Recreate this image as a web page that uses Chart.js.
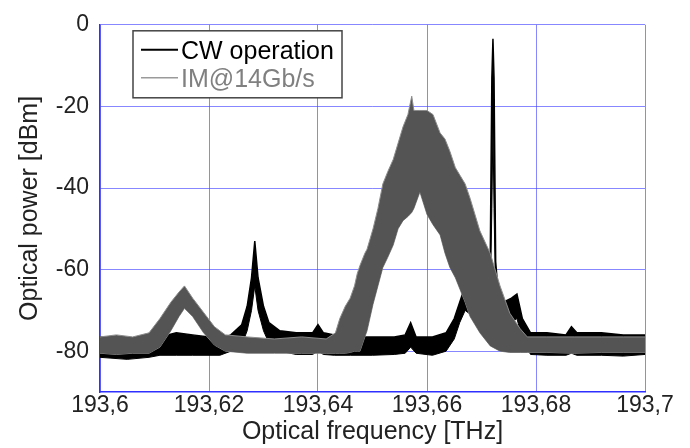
<!DOCTYPE html>
<html>
<head>
<meta charset="utf-8">
<script src="https://cdn.jsdelivr.net/npm/chart.js@4.4.1/dist/chart.umd.min.js"></script>
<style>
  body { margin: 0; background: #fff; }
</style>
</head>
<body>
<canvas id="spectrum" width="690" height="448"></canvas>
<script>
// axis ticks
const xTicks = [193.6, 193.62, 193.64, 193.66, 193.68, 193.7];
const xTickLabels = ["193,6", "193,62", "193,64", "193,66", "193,68", "193,7"];
const yTicks = [-80, -60, -40, -20, 0];

// IM@14Gb/s spectrum, read as upper / lower edge of the noisy band
const imFreq = [193.600, 193.603, 193.606, 193.609, 193.611, 193.613, 193.6145, 193.6155, 193.617, 193.619,
  193.621, 193.623, 193.627, 193.632, 193.637, 193.6415, 193.6432, 193.6440, 193.6450, 193.6459,
  193.6467, 193.6472, 193.6477, 193.6486, 193.6490, 193.6501, 193.6510, 193.6519, 193.6528, 193.6538,
  193.6547, 193.6556, 193.6565, 193.6572, 193.6576, 193.6587, 193.6600, 193.6611, 193.6624, 193.6633,
  193.6642, 193.6652, 193.6661, 193.6670, 193.6679, 193.6697, 193.6716, 193.6734, 193.6752, 193.6771,
  193.6784, 193.682, 193.687, 193.692, 193.696, 193.700];
const imUpper = [-76.5, -76, -76.5, -75.5, -72, -68, -65.5, -64, -67, -70.5,
  -74, -76, -76.5, -77, -76.5, -77, -75.5, -72, -69, -67,
  -64, -61, -59, -56, -55, -50, -45, -39, -36, -33,
  -29, -25, -22, -17.5, -21, -21, -21, -22, -26.5, -28,
  -31, -35, -37, -39, -42.5, -50.5, -56, -64, -70.7, -74.5,
  -76.5, -76.5, -76.5, -76.5, -76.5, -76.5];
const imLower = [-80.5, -80.8, -80.5, -80.5, -79, -75, -71.5, -69.5, -71.5, -75.5,
  -78.5, -80, -80.5, -80.5, -80.5, -80.5, -80.5, -80.5, -80.5, -80.3,
  -80, -80, -80, -76.5, -75, -68.5, -64, -59.5, -57, -54,
  -50, -48, -47, -46, -45, -41, -46.5, -49, -51.5, -56,
  -59.5, -62, -65, -68, -71.5, -75.5, -78.7, -80, -80.3, -80.3,
  -80.3, -80.3, -80.5, -80.3, -80.3, -80.3];

// CW operation spectrum
const cwFreq = [193.600, 193.605, 193.609, 193.611, 193.614, 193.617, 193.620, 193.622, 193.624, 193.626,
  193.627, 193.6278, 193.6284, 193.629, 193.630, 193.631, 193.633, 193.636, 193.639, 193.640,
  193.641, 193.643, 193.646, 193.650, 193.654, 193.656, 193.657, 193.658, 193.661, 193.6635,
  193.665, 193.666, 193.667, 193.668, 193.669, 193.6705, 193.6713, 193.6716, 193.6719, 193.6721,
  193.6723, 193.6726, 193.6729, 193.674, 193.6755, 193.6765, 193.6775, 193.679, 193.682, 193.6855,
  193.6865, 193.6875, 193.692, 193.696, 193.700];
const cwUpper = [-76.5, -77, -77, -76.5, -75.5, -76, -76.5, -77, -76, -73.5,
  -69, -62, -53, -62, -69, -73, -75, -75.5, -75.5, -73.5,
  -75.5, -76, -76.5, -76.5, -76.5, -76, -73, -76.5, -76.5, -75.5,
  -72, -68, -64, -65.5, -68.5, -69, -66, -58, -13, -3.4,
  -13, -58, -63, -68, -67, -66, -72, -75.5, -75.5, -76,
  -74, -75.5, -75.5, -76, -76];
const cwLower = [-81.5, -82, -81.5, -81, -81, -81, -81, -81, -80, -78.5,
  -75, -70, -64, -70, -75, -78, -80, -80.8, -80.8, -80,
  -80.8, -81, -81, -81, -80.8, -80.5, -79, -80.5, -81, -80,
  -77, -73, -70, -71, -73, -73.5, -72, -68, -45, -25,
  -45, -68, -70, -73, -73, -72, -77, -80.8, -81, -81,
  -80.5, -81, -81, -81.2, -80.8];

const legendItems = ["CW operation", "IM@14Gb/s"];
const legendColors = ["#000000", "#9a9a9a"];
const legendTextColors = ["#000000", "#808080"];

function pts(xs, ys) {
  return xs.map((x, i) => ({ x: x, y: ys[i] }));
}

const boxLegend = {
  id: "boxLegend",
  afterDraw(chart) {
    const ctx = chart.ctx;
    const a = chart.chartArea;
    const bx = a.left + 33, by = a.top + 6, bw = 209, bh = 67;
    ctx.save();
    ctx.fillStyle = "#ffffff";
    ctx.fillRect(bx, by, bw, bh);
    ctx.strokeStyle = "#444444";
    ctx.lineWidth = 1.5;
    ctx.strokeRect(bx, by, bw, bh);
    ctx.font = "25px 'Liberation Sans', Arial, sans-serif";
    ctx.textBaseline = "middle";
    for (let i = 0; i < legendItems.length; i++) {
      const ly = by + 19 + i * 28;
      ctx.strokeStyle = legendColors[i];
      ctx.lineWidth = i == 0 ? 2 : 1.5;
      ctx.beginPath();
      ctx.moveTo(bx + 8, ly);
      ctx.lineTo(bx + 45, ly);
      ctx.stroke();
      ctx.fillStyle = legendTextColors[i];
      ctx.fillText(legendItems[i], bx + 48, ly + 2);
    }
    ctx.restore();
  }
};

const gridBlue = "rgba(70,70,255,0.65)";

new Chart(document.getElementById("spectrum"), {
  type: "line",
  data: {
    datasets: [
      { data: pts(imFreq, imUpper), borderColor: "#8c8c8c", backgroundColor: "#545454", borderWidth: 1, fill: "+1" },
      { data: pts(imFreq, imLower), borderColor: "#8c8c8c", borderWidth: 1, fill: false },
      { data: pts(cwFreq, cwUpper), borderColor: "#000000", backgroundColor: "#000000", borderWidth: 1.5, fill: "+1" },
      { data: pts(cwFreq, cwLower), borderColor: "#000000", borderWidth: 1, fill: false }
    ]
  },
  options: {
    responsive: false,
    animation: false,
    devicePixelRatio: 1,
    elements: { point: { radius: 0 }, line: { tension: 0 } },
    layout: { padding: { left: 0, right: 45, top: 19, bottom: 0 } },
    plugins: { legend: { display: false }, tooltip: { enabled: false } },
    scales: {
      x: {
        type: "linear",
        min: 193.6,
        max: 193.7,
        afterBuildTicks: (axis) => { axis.ticks = xTicks.map((v) => ({ value: v })); },
        afterFit: (axis) => { axis.height = 56; },
        ticks: {
          color: "#222",
          padding: 0,
          maxRotation: 0,
          font: { family: "'Liberation Sans', Arial", size: 23 },
          callback: (v, i) => xTickLabels[i]
        },
        grid: { color: gridBlue, lineWidth: 1, drawTicks: false },
        border: { color: "#2f2fff", width: 1.5 },
        title: {
          display: true,
          text: "Optical frequency [THz]",
          color: "#222",
          padding: { top: 0, bottom: 1 },
          font: { family: "'Liberation Sans', Arial", size: 25 }
        }
      },
      y: {
        min: -90,
        max: 0,
        afterBuildTicks: (axis) => { axis.ticks = yTicks.map((v) => ({ value: v })); },
        afterFit: (axis) => { axis.width = 100; },
        ticks: {
          color: "#222",
          padding: 11,
          font: { family: "'Liberation Sans', Arial", size: 23 }
        },
        grid: { color: gridBlue, lineWidth: 1, drawTicks: false },
        border: { color: "#2f2fff", width: 1.5 },
        title: {
          display: true,
          text: "Optical power [dBm]",
          color: "#222",
          padding: { top: 15, bottom: 0 },
          font: { family: "'Liberation Sans', Arial", size: 25 }
        }
      }
    }
  },
  plugins: [boxLegend]
});
</script>
</body>
</html>
